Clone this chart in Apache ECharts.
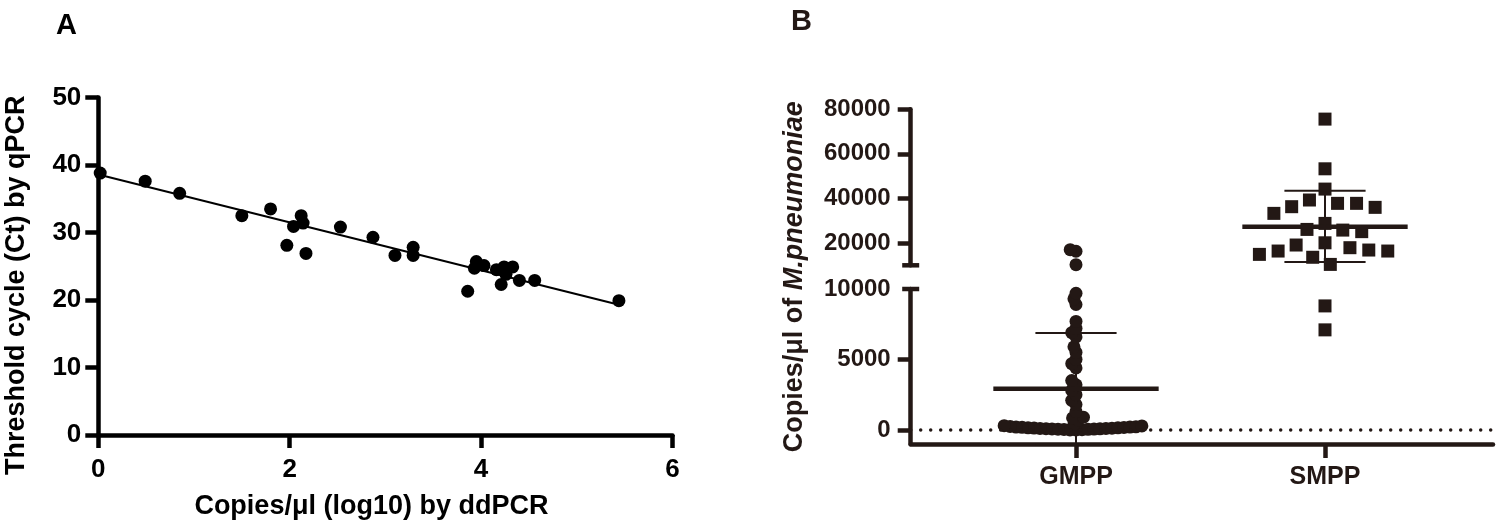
<!DOCTYPE html>
<html>
<head>
<meta charset="utf-8">
<script src="https://cdn.jsdelivr.net/npm/echarts@6/dist/echarts.min.js"></script>
<style>
html,body{margin:0;padding:0;background:#fff;}
#c{width:1500px;height:531px;}
</style>
</head>
<body>
<div id="c"></div>
<script>
// ---------- Panel A data ----------
const ddpcrLog = [0.02, 0.49, 0.85, 1.50, 1.80, 2.12, 2.14, 2.04, 1.97, 2.17, 2.53, 2.87, 3.10, 3.29, 3.29,
                  3.86, 3.95, 3.93, 4.03, 4.16, 4.24, 4.33, 4.26, 4.21, 4.40, 4.56, 5.44];
const qpcrCt   = [38.8, 37.6, 35.8, 32.5, 33.5, 32.5, 31.4, 30.9, 28.1, 26.9, 30.8, 29.3, 26.6, 27.8, 26.6,
                  21.3, 25.7, 24.7, 25.1, 24.5, 24.9, 24.9, 23.8, 22.3, 22.9, 22.9, 19.9];
const fitX = [0, 5.44];
const fitY = [38.6, 19.3];
const aXRange = [0, 6, 2];
const aYRange = [0, 50, 10];

// ---------- Panel B data ----------
const groups = ['GMPP', 'SMPP'];
const gmppValues = [0, 0, 20, 30, 40, 50, 60, 70, 80, 90, 100, 100, 120, 130, 150, 150, 170, 180, 200, 200, 220, 250, 280, 300,
                    400, 700, 850, 900, 1300, 1800, 2100, 2500, 2800, 3200, 3500, 4400, 4700, 5000, 5500, 5900,
                    6600, 6900, 7200, 7700, 8900, 9300, 9700, 10300, 16300, 17000];
const smppValues = [75600, 53300, 44200, 39300, 37800, 37800, 36300, 36000, 33300, 28800, 26100, 25800, 25100,
                    20100, 19100, 17900, 16850, 16400, 16400, 14900, 13600, 10400, 8800, 7100];
const gmppStats = [2920, -1030, 6870];   // mean, mean-SD, mean+SD
const smppStats = [27300, 11500, 43500];
const breakValue = 10000;
const lowerRange = [-1000, 10000];
const upperRange = [10000, 80000];
const lowerTicks = [0, 5000];
const lowerLabels = [0, 5000, 10000];
const upperTicks = [20000, 40000, 60000, 80000];

// ---------- styles ----------
const colA = '#000000';
const colB = '#231815';
const FONT = "'Liberation Sans', Arial, Helvetica, sans-serif";
const plain = v => String(v);

const lowerPts = (vals, idx) => vals.filter(v => v < breakValue).map(v => [idx, v]);
const upperPts = (vals, idx) => vals.filter(v => v >= breakValue).map(v => [idx, v]);

function errorBarItem(params, api) {
  const cat = api.value(0);
  const mid = api.coord([cat, api.value(1)]);
  const lo = api.coord([cat, api.value(2)]);
  const hi = api.coord([cat, api.value(3)]);
  const band = api.size([1, 0])[0];
  const meanHalf = band * 0.332;
  const capHalf = band * 0.163;
  const st = {stroke: colB, lineWidth: 2};
  return {
    type: 'group',
    children: [
      {type: 'line', shape: {x1: mid[0] - meanHalf, y1: mid[1], x2: mid[0] + meanHalf, y2: mid[1]}, style: {stroke: colB, lineWidth: 4.5}},
      {type: 'line', shape: {x1: lo[0], y1: lo[1], x2: hi[0], y2: hi[1]}, style: st},
      {type: 'line', shape: {x1: hi[0] - capHalf, y1: hi[1], x2: hi[0] + capHalf, y2: hi[1]}, style: st},
      {type: 'line', shape: {x1: lo[0] - capHalf, y1: lo[1], x2: lo[0] + capHalf, y2: lo[1]}, style: st}
    ]
  };
}

const labelB = {fontFamily: FONT, fontWeight: 'bold', fontSize: 24, color: colB, formatter: plain};
const hiddenCat = (grid, pos, margin) => ({
  gridIndex: grid, type: 'category', data: groups, position: pos, show: false,
  axisLine: {onZero: false},
  jitter: 220, jitterOverlap: false, jitterMargin: margin
});
const dot = {color: colB, opacity: 1};

const chart = echarts.init(document.getElementById('c'));
chart.setOption({
  animation: false,
  backgroundColor: '#fff',
  title: [
    {text: 'A', left: 51, top: 6, textStyle: {fontFamily: FONT, fontWeight: 'bold', fontSize: 29, color: colA}},
    {text: 'B', left: 786, top: 2, textStyle: {fontFamily: FONT, fontWeight: 'bold', fontSize: 29, color: colB}}
  ],
  grid: [
    {left: 98.3, top: 97.5, width: 574.2, height: 337.5},          // A
    {left: 951.5, top: 109.3, width: 498, height: 156},            // B upper segment
    {left: 951.5, top: 289, width: 498, height: 155},              // B lower segment
    {left: 910.7, top: 289, right: 7, height: 155},                // B base (x axis line, zero line)
    {left: 910.7, top: 109.3, right: 7, bottom: 87}                // B title holder
  ],
  xAxis: [
    {gridIndex: 0, type: 'value', min: aXRange[0], max: aXRange[1], interval: aXRange[2],
     name: 'Copies/μl (log10) by ddPCR', nameLocation: 'middle', nameGap: 58,
     nameTextStyle: {fontFamily: FONT, fontWeight: 'bold', fontSize: 27, color: colA, padding: [0, 28, 0, 0]},
     axisLine: {lineStyle: {color: colA, width: 4.5}},
     axisTick: {length: 13, lineStyle: {color: colA, width: 4.5}},
     axisLabel: {margin: 22, fontFamily: FONT, fontWeight: 'bold', fontSize: 26, color: colA},
     splitLine: {show: false}},
    hiddenCat(1, 'bottom', -7),
    hiddenCat(1, 'top', 6),
    {gridIndex: 2, type: 'category', data: groups, position: 'bottom',
     jitter: 220, jitterOverlap: false, jitterMargin: -7,
     axisLine: {show: false, onZero: false},
     axisTick: {show: true, alignWithLabel: true, length: 14, lineStyle: {color: colB, width: 4.5}},
     axisLabel: {margin: 21, fontSize: 25, fontFamily: FONT, fontWeight: 'bold', color: colB}},
    hiddenCat(2, 'top', 6),
    {gridIndex: 3, type: 'value', min: 0, max: 1,
     axisLine: {show: true, onZero: false, lineStyle: {color: colB, width: 4.5}},
     axisTick: {show: false}, axisLabel: {show: false}, splitLine: {show: false}},
    {gridIndex: 4, type: 'value', show: false}
  ],
  yAxis: [
    {gridIndex: 0, type: 'value', min: aYRange[0], max: aYRange[1], interval: aYRange[2],
     name: 'Threshold cycle (Ct) by qPCR', nameLocation: 'middle', nameGap: 68,
     nameTextStyle: {fontFamily: FONT, fontWeight: 'bold', fontSize: 27, color: colA, padding: [0, 38, 0, 0]},
     axisLine: {show: true, lineStyle: {color: colA, width: 4.5}},
     axisTick: {show: true, length: 13, lineStyle: {color: colA, width: 4.5}},
     axisLabel: {margin: 17, fontFamily: FONT, fontWeight: 'bold', fontSize: 26, color: colA},
     splitLine: {show: false}},
    {gridIndex: 1, type: 'value', min: upperRange[0], max: upperRange[1], offset: 40.8,
     axisLine: {show: true, lineStyle: {color: colB, width: 4.5}, symbol: ['rect', 'none'], symbolSize: [17, 4.5]},
     axisTick: {show: true, length: 13, lineStyle: {color: colB, width: 4.5}, customValues: upperTicks},
     axisLabel: Object.assign({margin: 20, customValues: upperTicks}, labelB),
     splitLine: {show: false}},
    {gridIndex: 2, type: 'value', min: lowerRange[0], max: lowerRange[1], offset: 40.8,
     axisLine: {show: true, lineStyle: {color: colB, width: 4.5}, symbol: ['none', 'rect'], symbolSize: [17, 4.5]},
     axisTick: {show: true, length: 13, lineStyle: {color: colB, width: 4.5}, customValues: lowerTicks},
     axisLabel: Object.assign({margin: 20, customValues: lowerLabels}, labelB),
     splitLine: {show: false}},
    {gridIndex: 3, type: 'value', min: lowerRange[0], max: lowerRange[1], show: false},
    {gridIndex: 4, type: 'value', min: 0, max: 1,
     name: '{n|Copies/μl of }{i|M.pneumoniae}', nameLocation: 'middle', nameGap: 103,
     nameTextStyle: {fontFamily: FONT, fontWeight: 'bold', fontSize: 27, color: colB,
       rich: {n: {fontFamily: FONT, fontWeight: 'bold', fontSize: 27, color: colB},
              i: {fontFamily: FONT, fontWeight: 'bold', fontStyle: 'italic', fontSize: 27, color: colB}}},
     axisLine: {show: false}, axisTick: {show: false}, axisLabel: {show: false}, splitLine: {show: false}}
  ],
  series: [
    {type: 'line', xAxisIndex: 0, yAxisIndex: 0, data: fitX.map((x, i) => [x, fitY[i]]),
     symbol: 'none', lineStyle: {color: colA, width: 2}, silent: true},
    {type: 'scatter', xAxisIndex: 0, yAxisIndex: 0, data: ddpcrLog.map((x, i) => [x, qpcrCt[i]]),
     symbol: 'circle', symbolSize: 13, itemStyle: {color: colA, opacity: 1}},
    {type: 'scatter', xAxisIndex: 1, yAxisIndex: 1, data: upperPts(gmppValues, 0),
     symbol: 'circle', symbolSize: 13, itemStyle: dot},
    {type: 'scatter', xAxisIndex: 2, yAxisIndex: 1, data: upperPts(smppValues, 1),
     symbol: 'rect', symbolSize: 13, itemStyle: dot},
    {type: 'scatter', xAxisIndex: 3, yAxisIndex: 2, data: lowerPts(gmppValues, 0),
     symbol: 'circle', symbolSize: 13, itemStyle: dot},
    {type: 'scatter', xAxisIndex: 4, yAxisIndex: 2, data: lowerPts(smppValues, 1),
     symbol: 'rect', symbolSize: 13, itemStyle: dot},
    {type: 'custom', xAxisIndex: 3, yAxisIndex: 2, z: 5, renderItem: errorBarItem,
     data: [[0].concat(gmppStats)], silent: true},
    {type: 'custom', xAxisIndex: 2, yAxisIndex: 1, z: 5, renderItem: errorBarItem,
     data: [[1].concat(smppStats)], silent: true},
    {type: 'line', xAxisIndex: 5, yAxisIndex: 3, data: [], silent: true,
     markLine: {silent: true, symbol: 'none', label: {show: false},
       lineStyle: {color: colB, width: 3.5, type: [0, 10], cap: 'round'},
       emphasis: {disabled: true},
       data: [{yAxis: 0}]}}
  ]
});
</script>
</body>
</html>
